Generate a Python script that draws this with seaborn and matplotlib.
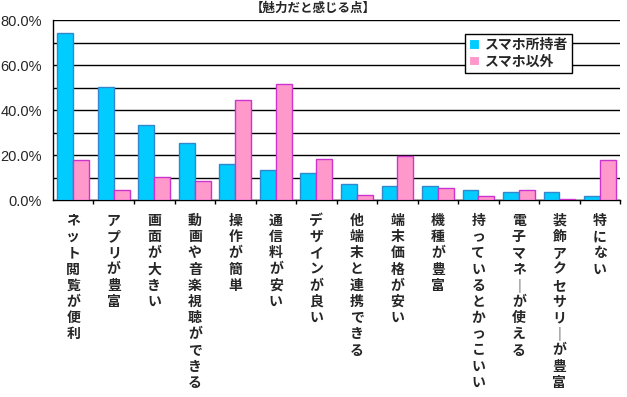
import pandas as pd
import numpy as np
import matplotlib
matplotlib.use('Agg')
import matplotlib.pyplot as plt
import seaborn as sns
from matplotlib.ticker import MultipleLocator, FuncFormatter

sns.set_theme(style="white")
plt.rcParams['font.family'] = ['Noto Sans CJK JP', 'DejaVu Sans']

# data (percent)
categories = ['ネット閲覧が便利', 'アプリが豊富', '画面が大きい', '動画や音楽視聴ができる',
              '操作が簡単', '通信料が安い', 'デザインが良い', '他端末と連携できる',
              '端末価格が安い', '機種が豊富', '持っているとかっこいい', '電子マネーが使える',
              '装飾アクセサリーが豊富', '特にない']
smartphone = [74.1, 50.1, 33.2, 25.2, 15.9, 13.2, 11.9, 7.1, 6.1, 6.1, 4.3, 3.4, 3.4, 1.6]
others = [17.6, 4.7, 10.2, 8.3, 44.4, 51.4, 18.1, 2.1, 19.6, 5.2, 1.6, 4.3, 0.7, 17.6]
series_names = ['スマホ所持者', 'スマホ以外']
title = '【魅力だと感じる点】'

df = pd.DataFrame({
    'cat': categories * 2,
    'value': smartphone + others,
    'group': [series_names[0]] * len(categories) + [series_names[1]] * len(categories),
})

fig = plt.figure(figsize=(6.27, 3.97), dpi=100)
ax = fig.add_axes([0.0845, 0.496, 0.9045, 0.4536])

palette = {series_names[0]: '#00CCFF', series_names[1]: '#FF99CC'}
sns.barplot(data=df, x='cat', y='value', hue='group', palette=palette,
            width=0.78, saturation=1, ax=ax, zorder=3)

# bar edge colours like the original Excel chart
n = len(categories)
for i, p in enumerate(ax.patches[:2 * n]):
    p.set_edgecolor('#3388CC' if i < n else '#CC33CC')
    p.set_linewidth(1.0)

ax.set_ylim(0, 80)
ax.set_xlim(-0.5, n - 0.5)
ax.yaxis.set_major_locator(MultipleLocator(20))
ax.yaxis.set_minor_locator(MultipleLocator(10))
ax.yaxis.set_major_formatter(FuncFormatter(lambda v, _: f'{v:.1f}%'))
ax.grid(True, which='both', axis='y', color='black', linewidth=1.0, zorder=0)
ax.set_axisbelow(True)

for s in ['top', 'right']:
    ax.spines[s].set_visible(False)
for s in ['left', 'bottom']:
    ax.spines[s].set_color('black')
    ax.spines[s].set_linewidth(1.0)

# vertical (tategaki) category labels
vert = ['\n'.join(c.replace('ー', '｜')) for c in categories]
ax.set_xticks(range(n))
ax.set_xticklabels(vert, fontsize=10, fontweight='bold', va='top', linespacing=1.2)
ax.tick_params(axis='x', which='major', length=0, pad=10)
ax.set_xticks(np.arange(n) + 0.5, minor=True)
ax.tick_params(axis='x', which='minor', length=3, width=1, color='black', direction='out', bottom=True)
ax.tick_params(axis='y', which='both', length=0, pad=8)
for t in ax.get_yticklabels():
    t.set_family(['Liberation Sans', 'DejaVu Sans'])
    t.set_fontsize(10.5)
ax.set_xlabel('')
ax.set_ylabel('')

leg = ax.legend(loc='upper left', bbox_to_anchor=(0.727, 0.925), frameon=True,
                fancybox=False, edgecolor='black', framealpha=1,
                handlelength=0.7, handleheight=0.7, handletextpad=0.4,
                borderpad=0.3, labelspacing=0.2, borderaxespad=0,
                prop={'weight': 'bold', 'size': 10})
leg.get_frame().set_linewidth(1.0)
for h in leg.legend_handles:
    h.set_linewidth(0.8)

fig.text(0.5, 0.995, title, ha='center', va='top', fontsize=9, fontweight='bold')

fig.savefig('out.png', dpi=100, facecolor='white')
